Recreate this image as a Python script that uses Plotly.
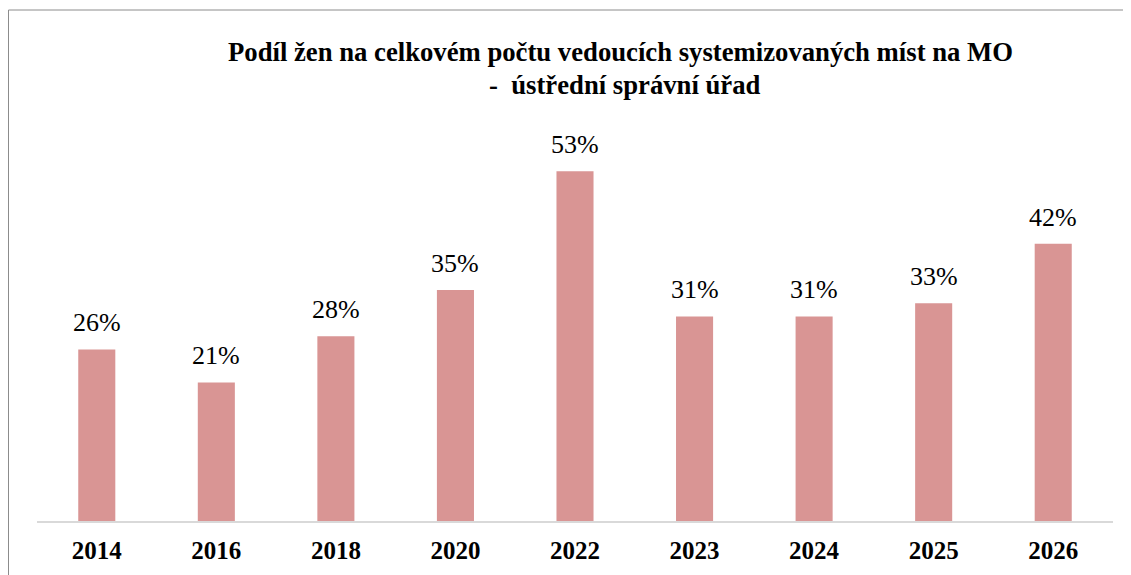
import plotly.graph_objects as go

years = ["2014", "2016", "2018", "2020", "2022", "2023", "2024", "2025", "2026"]
share = [0.26, 0.21, 0.28, 0.35, 0.53, 0.31, 0.31, 0.33, 0.42]
labels = ["26%", "21%", "28%", "35%", "53%", "31%", "31%", "33%", "42%"]

title_line1 = "Podíl žen na celkovém počtu vedoucích systemizovaných míst na MO"
title_line2 = "-  ústřední správní úřad"

SERIF = "Liberation Serif, Times New Roman, serif"

# page body has an 8px margin, so the figure is a bit smaller than the window
W, H = 1123, 567
L, R, T, B = 29, 18, 117, 54
PW, PH = W - L - R, H - T - B

fig = go.Figure(
    go.Bar(
        x=years,
        y=share,
        marker=dict(color="#D99594", line=dict(width=0)),
        hoverinfo="skip",
    )
)

# value labels sit a little higher above the bars than plotly's own outside text
# (numeric-looking category names get read as numbers by annotations, so use the index)
for i, (val, lab) in enumerate(zip(share, labels)):
    fig.add_annotation(
        x=i, y=val, text=lab, showarrow=False,
        yanchor="bottom", yshift=10,
        font=dict(family=SERIF, size=26, color="#000000"),
    )

fig.update_layout(
    width=W,
    height=H,
    margin=dict(l=L, r=R, t=T, b=B),
    paper_bgcolor="white",
    plot_bgcolor="white",
    bargap=0.69,
    showlegend=False,
    font=dict(family=SERIF, color="#000000"),
)
fig.update_xaxes(
    type="category",
    range=[-0.5, len(years) - 0.5],
    showgrid=False,
    showline=True,
    linecolor="#D9D9D9",
    linewidth=2,
    ticks="",
    tickfont=dict(family=SERIF, size=25, color="#000000", weight="bold"),
    ticklabelstandoff=6,
)
fig.update_yaxes(range=[0, 0.6], visible=False)


def px_x(x):
    return (x - L) / PW


def px_y(y):
    return (H - B - y) / PH


# title as two separate lines (Excel spacing)
fig.add_annotation(
    text="<b>" + title_line1 + "</b>", xref="paper", yref="paper",
    x=px_x(612), y=px_y(44), showarrow=False,
    font=dict(family=SERIF, size=26.7), xanchor="center", yanchor="middle",
)
fig.add_annotation(
    text="<b>" + title_line2 + "</b>", xref="paper", yref="paper",
    x=px_x(617), y=px_y(77), showarrow=False,
    font=dict(family=SERIF, size=26.7), xanchor="center", yanchor="middle",
)

# chart frame, runs off the right and bottom edges like the reference
fig.add_shape(
    type="rect", xref="paper", yref="paper",
    x0=px_x(0.5), x1=1.1, y0=-0.3, y1=px_y(2),
    line=dict(color="#8C8C8C", width=1), layer="below",
)

fig.write_html("out.html")
